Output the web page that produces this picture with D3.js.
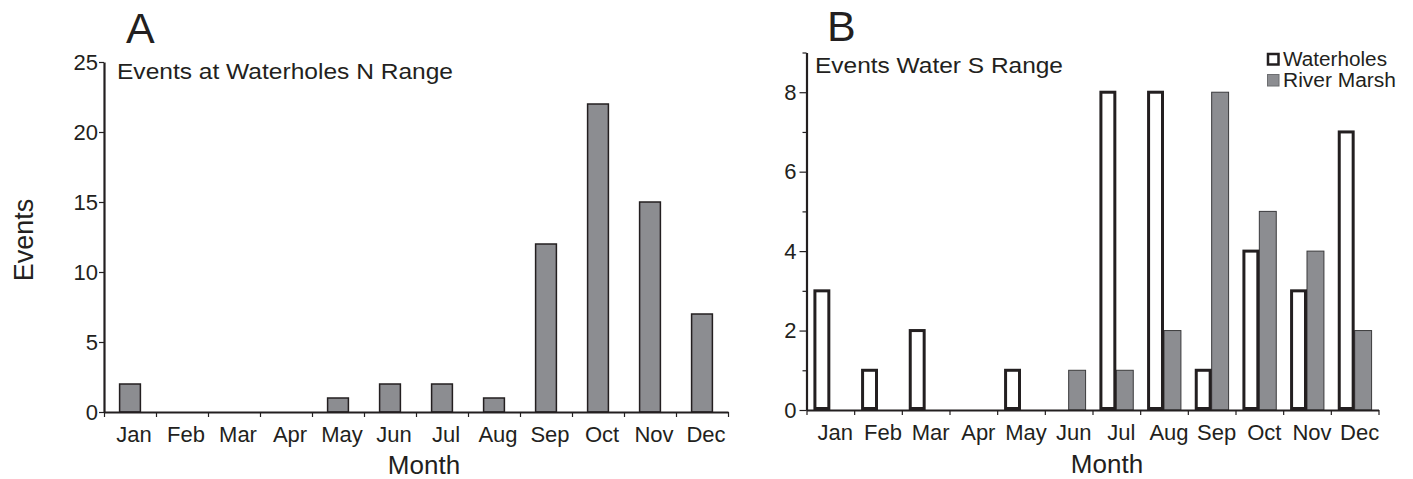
<!DOCTYPE html>
<html>
<head>
<meta charset="utf-8">
<script src="https://d3js.org/d3.v7.min.js"></script>
<style>
  body { margin: 0; background: #fff; }
  svg { display: block; }
  svg text { font-family: "Liberation Sans", Arial, Helvetica, sans-serif; }
  .axis path, .axis line { stroke: #231f20; }
  .axis text { fill: #231f20; }
</style>
</head>
<body>
<div id="chart"></div>
<script>
// data
let months = ["Jan", "Feb", "Mar", "Apr", "May", "Jun", "Jul", "Aug", "Sep", "Oct", "Nov", "Dec"];
let north_events = [2, 0, 0, 0, 1, 2, 2, 1, 12, 22, 15, 7];
let waterholes_s = [3, 1, 2, 0, 1, 0, 8, 8, 1, 4, 3, 7];
let river_marsh_s = [0, 0, 0, 0, 0, 1, 1, 2, 8, 5, 4, 2];
let series_names = ["Waterholes", "River Marsh"];
let ticks_a = [0, 5, 10, 15, 20, 25];
let ticks_b_major = [0, 2, 4, 6, 8];
let ticks_b_minor = [1, 3, 5, 7, 9];

let width = 1413;
let height = 479;
let ink = "#231f20";
let grey = "#8c8d91";

let svg = d3.select("#chart")
            .append("svg")
            .attr("width", width)
            .attr("height", height);

svg.append("rect").attr("width", width).attr("height", height).attr("fill", "#fff");

// ---------- Panel A ----------
let xA = d3.scaleBand()
           .domain(months)
           .range([104, 728])
           .paddingInner(0.6)
           .paddingOuter(0.3);

let yA = d3.scaleLinear()
           .domain([0, 25])
           .range([412, 62]);

let xA_idx = d3.scaleLinear().domain([0, 12]).range([104, 728]);

svg.append("g")
   .selectAll("rect")
   .data(months.map((m, i) => ({month: m, value: north_events[i]})).filter(d => d.value > 0))
   .join("rect")
   .attr("x", d => xA(d.month))
   .attr("y", d => yA(d.value))
   .attr("width", xA.bandwidth())
   .attr("height", d => yA(0) - yA(d.value))
   .attr("fill", grey)
   .attr("stroke", ink)
   .attr("stroke-width", 1.5);

svg.append("g")
   .attr("class", "axis")
   .attr("transform", "translate(104,0)")
   .call(d3.axisLeft(yA).tickValues(ticks_a).tickSize(5).tickPadding(1).tickSizeOuter(0))
   .attr("font-family", null)
   .call(g => g.select(".domain").attr("stroke-width", 2.2))
   .call(g => g.selectAll(".tick line").attr("stroke-width", 1.2))
   .call(g => g.selectAll("text").attr("font-size", 22));

// tick marks at month boundaries
svg.append("g")
   .attr("class", "axis")
   .attr("transform", "translate(0,412)")
   .call(d3.axisBottom(xA_idx).tickValues(d3.range(13)).tickFormat("").tickSize(5).tickSizeOuter(0))
   .call(g => g.select(".domain").attr("stroke-width", 2.2))
   .call(g => g.selectAll(".tick line").attr("stroke-width", 1.2));

// month labels
svg.append("g")
   .attr("class", "axis")
   .attr("transform", "translate(4,412)")
   .call(d3.axisBottom(xA).tickSize(0).tickPadding(14))
   .attr("font-family", null)
   .call(g => g.select(".domain").remove())
   .call(g => g.selectAll("text").attr("font-size", 22));

svg.append("text")
   .attr("x", 117)
   .attr("y", 79)
   .attr("font-size", 22)
   .attr("textLength", 336)
   .attr("lengthAdjust", "spacingAndGlyphs")
   .attr("fill", ink)
   .text("Events at Waterholes N Range");

svg.append("text")
   .attr("x", 126)
   .attr("y", 43)
   .attr("font-size", 43)
   .attr("fill", ink)
   .text("A");

svg.append("text")
   .attr("x", 424)
   .attr("y", 474)
   .attr("text-anchor", "middle")
   .attr("font-size", 26)
   .attr("fill", ink)
   .text("Month");

svg.append("text")
   .attr("transform", "translate(33,240) rotate(-90)")
   .attr("text-anchor", "middle")
   .attr("font-size", 27)
   .attr("fill", ink)
   .text("Events");

// ---------- Panel B ----------
let xB = d3.scaleBand()
           .domain(months)
           .range([806.5, 1378.5])
           .paddingInner(0.29)
           .paddingOuter(0.145);

let xSub = d3.scaleBand()
             .domain(series_names)
             .range([0, xB.bandwidth()]);

let yB = d3.scaleLinear()
           .domain([0, 9])
           .range([410, 52.5]);

let xB_idx = d3.scaleLinear().domain([0, 12]).range([806.5, 1378.5]);

let b_data = [];
months.forEach(function(m, i) {
    b_data.push({month: m, key: "Waterholes", value: waterholes_s[i]});
    b_data.push({month: m, key: "River Marsh", value: river_marsh_s[i]});
});

// river marsh first so the waterholes outline sits on top
svg.append("g")
   .selectAll("rect")
   .data(b_data.filter(d => d.key === "River Marsh" && d.value > 0))
   .join("rect")
   .attr("x", d => xB(d.month) + xSub(d.key))
   .attr("y", d => yB(d.value))
   .attr("width", xSub.bandwidth())
   .attr("height", d => yB(0) - yB(d.value))
   .attr("fill", grey)
   .attr("stroke", "#3a3a3c")
   .attr("stroke-width", 1);

svg.append("g")
   .selectAll("rect")
   .data(b_data.filter(d => d.key === "Waterholes" && d.value > 0))
   .join("rect")
   .attr("x", d => xB(d.month) + xSub(d.key) + 1.5)
   .attr("y", d => yB(d.value))
   .attr("width", xSub.bandwidth() - 3)
   .attr("height", d => yB(0) - yB(d.value) - 1.5)
   .attr("fill", "#fff")
   .attr("stroke", ink)
   .attr("stroke-width", 3);

svg.append("g")
   .attr("class", "axis")
   .attr("transform", "translate(806.5,0)")
   .call(d3.axisLeft(yB).tickValues(ticks_b_minor).tickFormat("").tickSize(4).tickSizeOuter(0))
   .call(g => g.select(".domain").attr("stroke-width", 2.2))
   .call(g => g.selectAll(".tick line").attr("stroke-width", 1.2));

svg.append("g")
   .attr("class", "axis")
   .attr("transform", "translate(806.5,0)")
   .call(d3.axisLeft(yB).tickValues(ticks_b_major).tickSize(7).tickPadding(3).tickSizeOuter(0))
   .attr("font-family", null)
   .call(g => g.select(".domain").remove())
   .call(g => g.selectAll(".tick line").attr("stroke-width", 1.2))
   .call(g => g.selectAll("text").attr("font-size", 22));

svg.append("g")
   .attr("class", "axis")
   .attr("transform", "translate(0,410)")
   .call(d3.axisBottom(xB_idx).tickValues(d3.range(13)).tickFormat("").tickSize(5).tickSizeOuter(0))
   .call(g => g.select(".domain").attr("stroke-width", 2.2))
   .call(g => g.selectAll(".tick line").attr("stroke-width", 1.2));

svg.append("g")
   .attr("class", "axis")
   .attr("transform", "translate(5,410)")
   .call(d3.axisBottom(xB).tickSize(0).tickPadding(14))
   .attr("font-family", null)
   .call(g => g.select(".domain").remove())
   .call(g => g.selectAll("text").attr("font-size", 22));

svg.append("text")
   .attr("x", 815)
   .attr("y", 73)
   .attr("font-size", 22)
   .attr("textLength", 248)
   .attr("lengthAdjust", "spacingAndGlyphs")
   .attr("fill", ink)
   .text("Events Water S Range");

svg.append("text")
   .attr("x", 827)
   .attr("y", 41)
   .attr("font-size", 43)
   .attr("fill", ink)
   .text("B");

svg.append("text")
   .attr("x", 1107)
   .attr("y", 473)
   .attr("text-anchor", "middle")
   .attr("font-size", 26)
   .attr("fill", ink)
   .text("Month");

// legend
let legend = svg.selectAll(".legend")
   .data(series_names)
   .join("g")
   .attr("class", "legend")
   .attr("transform", (d, i) => "translate(1267," + (53 + i * 21) + ")");

legend.append("rect")
   .attr("x", d => d === "Waterholes" ? 1 : 0.5)
   .attr("y", d => d === "Waterholes" ? 1 : 0.5)
   .attr("width", d => d === "Waterholes" ? 10.5 : 11.5)
   .attr("height", d => d === "Waterholes" ? 10.5 : 11.5)
   .attr("fill", d => d === "Waterholes" ? "#fff" : grey)
   .attr("stroke", d => d === "Waterholes" ? ink : "#6d6e71")
   .attr("stroke-width", d => d === "Waterholes" ? 2.5 : 1);

legend.append("text")
   .attr("x", 16)
   .attr("y", 12.5)
   .attr("font-size", 20)
   .attr("textLength", d => d === "Waterholes" ? 104 : 113)
   .attr("lengthAdjust", "spacingAndGlyphs")
   .attr("fill", ink)
   .text(d => d);
</script>
</body>
</html>
